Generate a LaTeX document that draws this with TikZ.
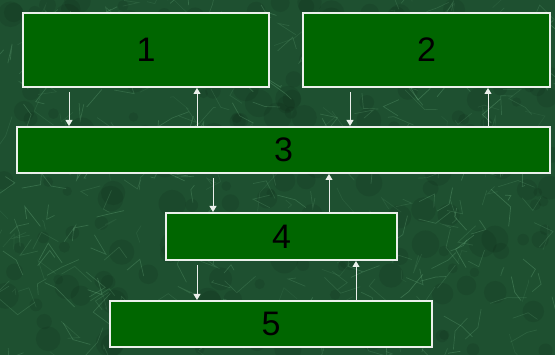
\documentclass[tikz,border=0pt]{standalone}
\usepackage{fontspec}
\setmainfont{Liberation Sans}
\usetikzlibrary{arrows.meta}
\definecolor{bgcol}{RGB}{30,80,48}
\definecolor{vein}{RGB}{130,200,150}
\definecolor{boxcol}{RGB}{0,102,0}
\definecolor{edgecol}{RGB}{235,240,235}
\tikzset{
  box/.style={draw=edgecol, line width=2pt, fill=boxcol, inner sep=0pt,
    font=\fontsize{34}{34}\selectfont, text=black},
  arr/.style={draw=edgecol, line width=1pt, -{Triangle[width=7pt,length=6pt]}}
}
\begin{document}
\begin{tikzpicture}[x=1pt,y=-1pt]
\useasboundingbox (0,0) rectangle (555,355);
\fill[bgcol] (0,0) rectangle (555,355);
\pgfmathsetseed{42}
\foreach \i in {1,...,200}{
  \pgfmathsetmacro{\xa}{rnd*555}
  \pgfmathsetmacro{\ya}{rnd*355}
  \pgfmathsetmacro{\rr}{4+rnd*10}
  \fill[black, opacity=0.08] (\xa,\ya) circle (\rr);
}
\foreach \i in {1,...,380}{
  \pgfmathsetmacro{\xa}{rnd*555}
  \pgfmathsetmacro{\ya}{rnd*355}
  \pgfmathsetmacro{\xb}{\xa+(rnd-0.5)*40}
  \pgfmathsetmacro{\yb}{\ya+(rnd-0.5)*40}
  \pgfmathsetmacro{\xc}{\xb+(rnd-0.5)*40}
  \pgfmathsetmacro{\yc}{\yb+(rnd-0.5)*40}
  \pgfmathsetmacro{\op}{0.08+rnd*0.2}
  \draw[vein, opacity=\op, line width=0.7pt] (\xa,\ya) -- (\xb,\yb) -- (\xc,\yc);
}
\node[box, minimum width=246pt, minimum height=74pt] (b1) at (146,50) {1};
\node[box, minimum width=247pt, minimum height=74pt] (b2) at (426.5,50) {2};
\node[box, minimum width=533pt, minimum height=46pt] (b3) at (283.5,150) {3};
\node[box, minimum width=231pt, minimum height=47pt] (b4) at (281.5,236.5) {4};
\node[box, minimum width=322pt, minimum height=46pt] (b5) at (271,324) {5};
\coordinate (xa) at (69,0);
\coordinate (xb) at (197,0);
\coordinate (xc) at (350,0);
\coordinate (xd) at (488,0);
\coordinate (xe) at (213,0);
\coordinate (xf) at (329,0);
\coordinate (xg) at (197,0);
\coordinate (xh) at (356,0);
\draw[arr] ([yshift=-4pt]b1.south -| xa) -- (b3.north -| xa);
\draw[arr] (b3.north -| xb) -- (b1.south -| xb);
\draw[arr] ([yshift=-4pt]b2.south -| xc) -- (b3.north -| xc);
\draw[arr] (b3.north -| xd) -- (b2.south -| xd);
\draw[arr] ([yshift=-4pt]b3.south -| xe) -- (b4.north -| xe);
\draw[arr] (b4.north -| xf) -- (b3.south -| xf);
\draw[arr] ([yshift=-4pt]b4.south -| xg) -- (b5.north -| xg);
\draw[arr] (b5.north -| xh) -- (b4.south -| xh);
\end{tikzpicture}
\end{document}
